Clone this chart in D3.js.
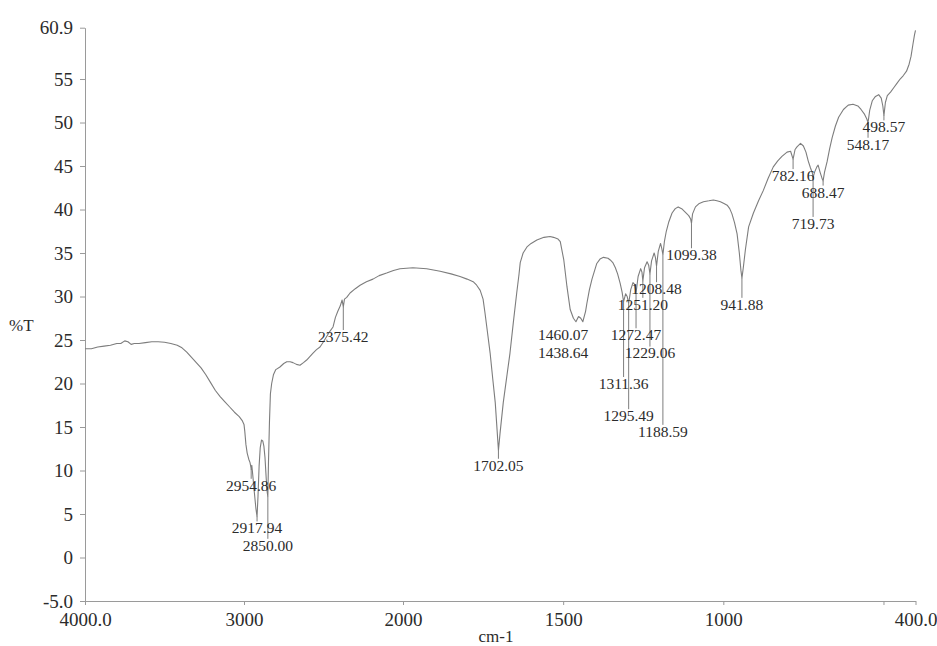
<!DOCTYPE html>
<html>
<head>
<meta charset="utf-8">
<script src="https://cdn.jsdelivr.net/npm/d3@7"></script>
<style>
  html, body { margin: 0; padding: 0; background: #fff; }
  svg { display: block; }
  .tick text { font-family: "Liberation Serif", "DejaVu Serif", serif; fill: #2b2b2b; }
</style>
</head>
<body>
<svg id="chart" width="937" height="646"></svg>
<script>
// FTIR spectrum: wavenumber (cm-1) and transmittance (%T)
const wavenumbers = [
  4000, 3960, 3920, 3880, 3840, 3800, 3775, 3750, 3730, 3710, 3690, 3660, 3620, 3580, 3540, 3500,
  3460, 3420, 3390, 3360, 3330, 3300, 3270, 3240, 3210, 3180, 3150, 3120, 3090, 3060, 3030, 3010,
  3000, 2995, 2988, 2980, 2970, 2962, 2956, 2954.86, 2951, 2945, 2935, 2925, 2917.94, 2912, 2905,
  2898, 2890, 2882, 2875, 2868, 2860, 2854, 2850.00, 2846, 2840, 2834, 2826, 2815, 2800, 2774,
  2750, 2731, 2710, 2692, 2670, 2648, 2626, 2606, 2586, 2566, 2544, 2522, 2500, 2480, 2460, 2440,
  2425, 2410, 2395, 2383, 2375.42, 2368, 2354, 2333, 2300, 2270, 2230, 2189, 2150, 2103, 2060, 2019,
  1969, 1926, 1884, 1850, 1822, 1800, 1781, 1770, 1759, 1750, 1744, 1736, 1728, 1720, 1712, 1706,
  1702.05, 1697, 1687, 1676, 1666, 1655, 1645, 1638, 1634, 1625, 1613, 1600, 1582, 1560, 1541, 1530,
  1516, 1509, 1498, 1488, 1478, 1468, 1460.07, 1452, 1445, 1438.64, 1430, 1426, 1418, 1410, 1395,
  1385, 1374, 1360, 1353, 1345, 1337, 1330, 1322, 1316, 1311.36, 1305, 1300, 1295.49, 1289, 1282,
  1277, 1272.47, 1266, 1258, 1254, 1251.20, 1246, 1238, 1233, 1229.06, 1224, 1216, 1212, 1208.48,
  1203, 1196, 1192, 1188.59, 1184, 1178, 1170, 1160, 1150, 1141, 1130, 1119, 1108, 1102, 1099.38,
  1096, 1087, 1075, 1062, 1045, 1031, 1020, 1009, 998, 988, 980, 973, 965, 957, 950, 945, 941.88,
  937, 931, 921, 906, 890, 875, 860, 844, 830, 817, 801, 790, 782.16, 776, 770, 759, 750, 742, 735,
  728, 722, 719.73, 715, 708, 704, 698, 692, 688.47, 684, 676, 668, 660, 650, 640, 625, 610, 595,
  580, 570, 560, 552, 548.17, 543, 535, 525, 515, 507, 502, 498.57, 494, 488, 478, 468, 458, 448,
  438, 428, 420, 414, 408, 403, 400
];
const transmittance = [
  24.0, 24.0, 24.2, 24.3, 24.4, 24.6, 24.6, 24.9, 24.8, 24.5, 24.6, 24.6, 24.7, 24.8, 24.8, 24.75,
  24.6, 24.4, 24.1, 23.6, 23.0, 22.4, 21.8, 21.0, 20.1, 19.2, 18.5, 17.9, 17.3, 16.7, 16.2, 15.7,
  15.3, 14.5, 13.0, 12.0, 11.3, 10.9, 10.3, 10.1, 10.6, 9.5, 7.5, 5.6, 4.7, 7.0, 10.5,
  12.6, 13.5, 13.4, 12.8, 11.5, 9.0, 7.5, 7.0, 11.0, 15.5, 18.8, 20.0, 21.0, 21.6, 21.9,
  22.3, 22.5, 22.5, 22.4, 22.2, 22.1, 22.4, 22.7, 23.1, 23.5, 23.9, 24.2, 24.8, 25.4, 26.0, 26.5,
  27.6, 28.3, 28.9, 29.6, 28.8, 29.7, 29.9, 30.4, 30.9, 31.3, 31.7, 32.0, 32.4, 32.7, 33.0, 33.2,
  33.3, 33.2, 32.9, 32.6, 32.3, 32.0, 31.7, 31.3, 30.7, 29.7, 28.1, 25.8, 23.5, 20.6, 17.8, 14.5,
  12.3, 14.3, 17.8, 20.8, 23.5, 27.2, 30.4, 32.5, 33.9, 35.0, 35.7, 36.1, 36.5, 36.8, 36.9, 36.8,
  36.6, 36.3, 34.2, 31.1, 28.5, 27.5, 27.1, 27.7, 27.5, 27.1, 28.3, 29.2, 30.8, 32.0, 33.8,
  34.3, 34.5, 34.4, 34.2, 33.9, 33.3, 32.6, 31.5, 30.5, 29.4, 30.3, 30.0, 29.2, 30.8, 31.6,
  31.4, 30.4, 32.3, 33.2, 32.8, 31.8, 33.3, 34.0, 33.6, 32.6, 34.1, 35.0, 34.5, 33.5,
  35.2, 36.1, 35.5, 34.8, 36.3, 37.5, 38.6, 39.6, 40.1, 40.3, 40.1, 39.7, 39.3, 38.9, 38.4,
  39.5, 40.3, 40.7, 40.9, 41.0, 41.1, 41.0, 40.9, 40.7, 40.5, 40.1, 39.5, 38.5, 37.2, 35.0, 33.0, 32.1,
  33.5, 35.4, 38.0, 39.6, 41.0, 42.2, 43.6, 44.9, 45.6, 46.1, 46.6, 46.7, 45.8, 46.9, 47.2, 47.6, 47.3, 46.6, 45.6,
  44.8, 44.2, 43.7, 44.3, 44.9, 45.1, 44.3, 43.6, 43.3, 44.3, 45.5, 47.0, 48.3, 49.6, 50.6, 51.5, 52.0, 52.1,
  51.9, 51.5, 51.0, 50.4, 50.0, 51.4, 52.5, 53.0, 53.2, 52.8, 51.9, 50.8, 52.3, 53.1, 53.5, 54.0, 54.5, 55.0,
  55.4, 55.9, 56.7, 57.6, 59.0, 60.1, 60.6
];

// Labelled absorption peaks and the %T level at which each label is written
const peakWavenumbers = [2954.86, 2917.94, 2850.00, 2375.42, 1702.05, 1460.07, 1438.64, 1311.36, 1295.49,
  1272.47, 1251.20, 1229.06, 1208.48, 1188.59, 1099.38, 941.88, 782.16, 719.73, 688.47, 548.17, 498.57];
const peakLabelLevels = [8.3, 3.4, 1.4, 25.4, 10.6, 25.6, 23.5, 20.0, 16.3,
  25.6, 29.1, 23.5, 30.9, 14.5, 34.8, 29.1, 43.9, 38.4, 42.0, 47.5, 49.5];
// Labels written beside their peak rather than under it (cm-1 of label centre)
const peakLabelCentres = {"1460.07": 1500, "1438.64": 1500};

// Axis ticks
const xTickValues = [4000, 3000, 2000, 1500, 1000, 500, 400];
const xTickLabels = ["4000.0", "3000", "2000", "1500", "1000", "", "400.0"];
const yTickValues = [60.9, 55, 50, 45, 40, 35, 30, 25, 20, 15, 10, 5, 0, -5];
const yTickLabels = ["60.9", "55", "50", "45", "40", "35", "30", "25", "20", "15", "10", "5", "0", "-5.0"];

const svg = d3.select("#chart");
const axisColor = "#9a9a9a";
const lineColor = "#7d7d7d";
const textColor = "#2b2b2b";
const serif = '"Liberation Serif", "DejaVu Serif", serif';

// Instrument-style abscissa: 4000-2000 compressed, 2000-400 expanded
const x = d3.scaleLinear().domain([4000, 2000, 400]).range([85, 403, 915.5]);
const y = d3.scaleLinear().domain([-5, 60.9]).range([601, 27.7]);

// Y axis
const yAxis = d3.axisLeft(y)
  .tickValues(yTickValues)
  .tickFormat((d, i) => yTickLabels[i])
  .tickSize(5).tickSizeOuter(0).tickPadding(7);
const gy = svg.append("g").attr("transform", "translate(85,0)").call(yAxis);
gy.select(".domain").attr("stroke", axisColor);
gy.selectAll(".tick line").attr("stroke", axisColor);
gy.selectAll(".tick text").style("font-size", "19px").attr("fill", textColor);

// X axis
const xAxis = d3.axisBottom(x)
  .tickValues(xTickValues)
  .tickFormat((d, i) => xTickLabels[i])
  .tickSize(4).tickSizeOuter(0).tickPadding(8);
const gx = svg.append("g").attr("transform", "translate(0,601)").call(xAxis);
gx.select(".domain").attr("stroke", axisColor);
gx.selectAll(".tick line").attr("stroke", axisColor);
gx.selectAll(".tick text").style("font-size", "19px").attr("fill", textColor);

// Axis titles
svg.append("text").attr("x", 9).attr("y", 325).attr("dy", "0.35em")
  .attr("font-family", serif).attr("font-size", 17).attr("fill", textColor).text("%T");
svg.append("text").attr("x", 496).attr("y", 636).attr("dy", "0.35em").attr("text-anchor", "middle")
  .attr("font-family", serif).attr("font-size", 17).attr("fill", textColor).text("cm-1");

// Spectrum trace
const spectrum = wavenumbers.map((w, i) => ({w, t: transmittance[i]}));
const line = d3.line().x(d => x(d.w)).y(d => y(d.t));
svg.append("path").datum(spectrum)
  .attr("d", line).attr("fill", "none")
  .attr("stroke", lineColor).attr("stroke-width", 1.1)
  .attr("stroke-linejoin", "round");

// Peak annotations: leader from the band minimum down to its label
const peaks = peakWavenumbers.map((w, i) => {
  const idx = wavenumbers.indexOf(w);
  return {
    w,
    t: idx >= 0 ? transmittance[idx] : null,
    level: peakLabelLevels[i],
    centre: peakLabelCentres[w.toFixed(2)] ?? w,
    text: w.toFixed(2)
  };
});

const labelSize = 15.5;
svg.append("g").selectAll("line").data(peaks.filter(p => p.t !== null && p.centre === p.w))
  .join("line")
  .attr("x1", d => x(d.w)).attr("x2", d => x(d.w))
  .attr("y1", d => y(d.t))
  .attr("y2", d => Math.max(y(d.t), y(d.level) - labelSize * 0.42))
  .attr("stroke", lineColor).attr("stroke-width", 1);

svg.append("g").selectAll("text").data(peaks)
  .join("text")
  .attr("x", d => x(d.centre)).attr("y", d => y(d.level)).attr("dy", "0.35em")
  .attr("text-anchor", "middle")
  .attr("font-family", serif).attr("font-size", labelSize).attr("fill", textColor)
  .text(d => d.text);
</script>
</body>
</html>
